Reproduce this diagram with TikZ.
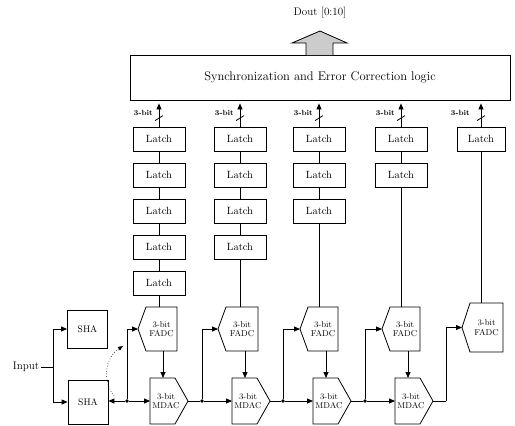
\documentclass[tikz,border=0pt]{standalone}
\usetikzlibrary{arrows.meta,calc}
\begin{document}
\begin{tikzpicture}[x=1pt,y=-1pt,
  box/.style={draw, line width=0.8pt, inner sep=0pt},
  latchbox/.style={box, minimum width=52pt, minimum height=24pt, font=\fontsize{10.5}{12}\selectfont},
  shabox/.style={box, minimum width=40pt, font=\fontsize{9.5}{11}\selectfont},
  conn/.style={line width=0.8pt},
  arr/.style={conn, -{Triangle[length=6pt,width=5pt]}},
  lbl/.style={font=\bfseries\fontsize{7.5}{8}\selectfont, inner sep=0pt},
  unit/.style={inner sep=0pt, align=center, font=\fontsize{8.5}{9.5}\selectfont},
  dot/.style={fill, circle, inner sep=0pt, minimum size=3.6pt}
]
\useasboundingbox (0,0) rectangle (515,426);

% output arrow and label
\node[inner sep=0pt, font=\fontsize{11}{13}\selectfont] (dout) at (320,13) {Dout [0:10]};
\node[box, minimum width=380pt, minimum height=45pt, font=\fontsize{12.5}{14}\selectfont] (sync) at (320,77.5) {Synchronization and Error Correction logic};
\draw[line width=0.8pt, fill=gray!40] (306,55) -- (306,43) -- (292,43) -- (320,31) -- (347,43) -- (333,43) -- (333,55);

% latches
\foreach \c/\x/\n/\w in {1/159/5/52, 2/240/4/52, 3/319/3/52, 4/401/2/52, 5/481/1/48}{
  \foreach \i in {1,...,\n}{
    \node[latchbox, minimum width=\w pt] (l\c\i) at (\x,{127+12+36*(\i-1)}) {Latch};
  }
  \draw[arr, shorten >=3pt] (l\c1.north) -- (l\c1.north |- sync.south);
  \draw[conn] ($(l\c1.north)+(-4,-6)$) -- ++(8,-5);
}
\foreach \c/\n in {1/5, 2/4, 3/3, 4/2}{
  \foreach \i [evaluate=\i as \j using int(\i+1)] in {1,...,\n}{
    \ifnum\i<\n \draw[conn] (l\c\i.south) -- (l\c\j.north); \fi
  }
}
\node[lbl, anchor=east] (b1) at (153,113) {3-bit};
\node[lbl, anchor=east] (b2) at (234,113) {3-bit};
\node[lbl, anchor=east] (b3) at (313,113) {3-bit};
\node[lbl, anchor=east] (b4) at (395,113) {3-bit};
\node[lbl, anchor=east] (b5) at (470,113) {3-bit};

% FADCs
\foreach \c/\p/\r/\t/\b in {1/138/177/307/351, 2/218/258/307/351, 3/300/338/307/351, 4/382/420/307/351, 5/462/503/303/352}{
  \draw[box] (\p,{(\t+\b)/2}) -- (\p+8,\t) -- (\r,\t) -- (\r,\b) -- (\p+8,\b) -- cycle;
  \node[unit] (f\c) at ({(\p+8+\r)/2},{(\t+\b)/2}) {3-bit\\FADC};
  \coordinate (f\c w) at (\p,{(\t+\b)/2});
  \coordinate (f\c n) at (\p+8,\t);
  \coordinate (f\c s) at (\p+8,\b);
}
% MDACs
\foreach \c/\l in {1/150, 2/232, 3/313, 4/395}{
  \draw[box] (\l,378) -- (\l+25,378) -- (\l+38,401) -- (\l+25,424) -- (\l,424) -- cycle;
  \node[unit] (m\c) at (\l+16,401) {3-bit\\MDAC};
  \coordinate (m\c w) at (\l,401);
  \coordinate (m\c e) at (\l+38,401);
  \coordinate (m\c n) at (\l+13,378);
}

% latch to FADC
\draw[conn] (l15.south) -- (l15.south |- f1n);
\draw[conn] (l24.south) -- (l24.south |- f2n);
\draw[conn] (l33.south) -- (l33.south |- f3n);
\draw[conn] (l42.south) -- (l42.south |- f4n);
\draw[conn] (l51.south) -- (l51.south |- f5n);

% FADC to MDAC
\foreach \c in {1,2,3,4}{
  \draw[arr] (m\c n |- f\c s) -- (m\c n);
}

% SHAs and input
\node[shabox, minimum height=38pt] (sha1) at (87.5,329) {SHA};
\node[shabox, minimum height=44pt] (sha2) at (88,402) {SHA};
\node[inner sep=0pt, font=\fontsize{11}{12}\selectfont] (inp) at (26,367) {Input};
\coordinate (split) at (53,367);
\draw[conn] (inp.east) ++(2,0) -- (split);
\draw[arr] (split) |- (sha1.west);
\draw[arr] (split) |- (sha2.west);

% dots and residue chain
\node[dot] (d1) at (127,401) {};
\node[dot] (d2) at (202,401) {};
\node[dot] (d3) at (283,401) {};
\node[dot] (d4) at (365,401) {};
\coordinate (c5) at (446,401);

\draw[arr] (d1) -- (d1 -| sha2.east);
\draw[arr] (d1) -- (m1w);
\draw[arr] (d1) |- (f1w);
\draw[conn] (m1e) -- (d2);
\draw[arr] (d2) -- (m2w);
\draw[arr] (d2) |- (f2w);
\draw[conn] (m2e) -- (d3);
\draw[arr] (d3) -- (m3w);
\draw[arr] (d3) |- (f3w);
\draw[conn] (m3e) -- (d4);
\draw[arr] (d4) -- (m4w);
\draw[arr] (d4) |- (f4w);
\draw[conn] (m4e) -- (c5);
\draw[arr] (c5) |- (f5w);

% dotted feedback
\coordinate (fb0) at (114,396);
\coordinate (fb1) at (123,346);
\draw[line width=0.6pt, dotted, -{Triangle[length=5pt,width=4pt]}] (fb0) .. controls (102,380) and (105,358) .. (fb1);
\end{tikzpicture}
\end{document}
